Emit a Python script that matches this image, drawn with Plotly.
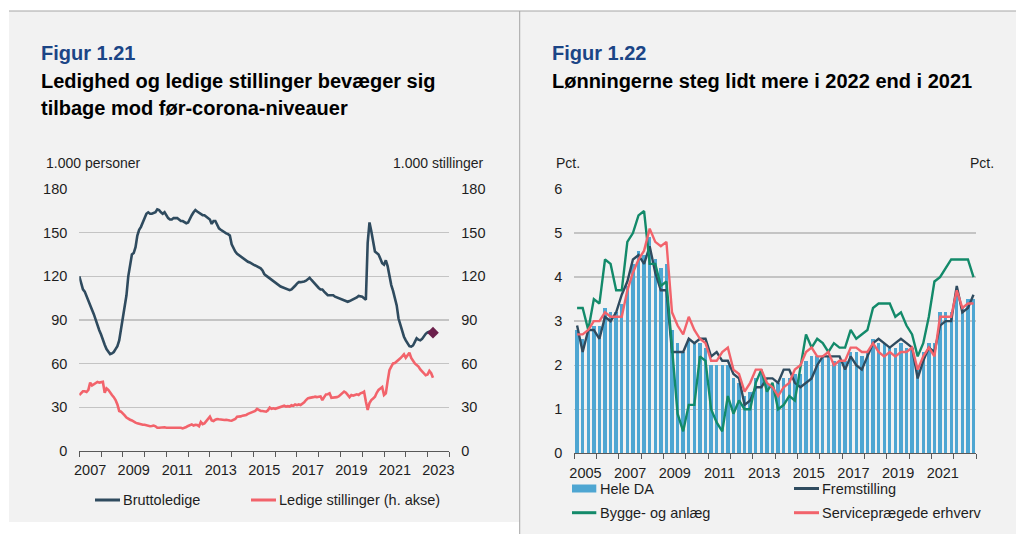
import plotly.graph_objects as go

W, H = 1016, 534
FONT = "Liberation Sans, Arial, Helvetica, sans-serif"

# ---------------- Data: Figur 1.21 (monthly, Jan 2007 - Apr 2023) ----------------
start_year_left = 2007
bruttoledige = [
    120, 115, 111, 109.5, 106, 103, 100, 97, 94, 90, 87, 83,            # 2007
    80, 76, 73, 70, 68, 66.5, 67, 68, 70, 72, 76, 84,                   # 2008
    91, 99, 107, 120, 128, 135, 136, 140, 148, 152, 154, 157,           # 2009
    161, 163, 164, 163, 163, 163.5, 164, 166, 165.5, 164, 163, 164,     # 2010
    162, 160, 159, 159, 160, 160, 160, 159, 158, 158, 157, 156.5,       # 2011
    157, 160, 162, 164, 165.5, 164.5, 163.5, 163, 162, 162, 161, 160,   # 2012
    159, 156, 158, 158, 155, 153, 152, 151, 150.5, 149.5, 149, 148,     # 2013
    142, 139, 137, 135.5, 134.5, 134, 133, 132, 131, 130, 129.5, 128.5, # 2014
    128, 127.5, 127, 126.5, 125.5, 124, 121.5, 120.5, 119.5, 118.5, 117.5, 116.5,  # 2015
    115.5, 115, 114, 113, 112.5, 112, 111.5, 111, 110.5, 111, 112, 113.5,          # 2016
    115, 116, 116, 116, 116.5, 117, 118, 119, 117.5, 116, 114.5, 113,   # 2017
    112, 111, 111, 109.5, 108, 107, 107, 107, 107, 106, 105.5, 105,     # 2018
    104.5, 103.5, 103, 102.5, 102.5, 103, 103.5, 104, 105, 105.5, 106.5, 106.5,    # 2019
    106, 105, 104, 143, 157, 151, 144, 137, 136, 135, 132, 129,         # 2020
    128, 131, 127, 120, 114, 110, 105, 100, 91, 87, 82, 78.5,           # 2021
    76, 74, 72, 71.7, 72.5, 75, 77.5, 76.5, 76, 77, 79, 80.5,           # 2022
    81.5, 82, 81.5, 81.3,                                               # 2023
]
ledige_stillinger = [
    38.5, 40, 41, 41, 40.5, 42, 47, 45, 46, 47, 47.5, 47,               # 2007
    47.5, 47.5, 40, 43, 42, 40, 38.5, 37, 35, 32, 27.5, 27,             # 2008
    26, 24.5, 23, 22, 21.5, 21, 20, 19.5, 19, 18.5, 18, 18,             # 2009
    18, 17.5, 17.5, 17, 17.2, 17.5, 17, 16, 16, 16.2, 16, 16.3,         # 2010
    16, 16, 16, 16.3, 16, 15.8, 16.3, 16, 16, 15.5, 15.8, 16.5,         # 2011
    17.2, 17.5, 18.3, 17.5, 18, 17.9, 17, 20, 18.5, 19, 20.5, 22,       # 2012
    23.6, 21, 20.6, 21.5, 22, 21.8, 21.5, 21.5, 21.3, 21.5, 21, 21,     # 2013
    20.8, 21.2, 22, 23.6, 23.5, 23.8, 24.3, 24.3, 24.8, 25.5, 26, 26,   # 2014
    26.5, 27.5, 28.9, 28, 27.5, 27.5, 27, 27, 28, 29.8, 29, 29.3,       # 2015
    29, 29.5, 29.8, 30, 30.5, 31.1, 30.5, 30.8, 30.5, 31.5, 31, 32,     # 2016
    31.5, 32, 31.6, 32.5, 33.4, 35, 36.2, 36.5, 36.5, 37, 37.3, 37,     # 2017
    37.3, 37.5, 35, 37.5, 38.9, 39, 39.6, 36.6, 36.6, 36.6, 37, 37.5,   # 2018
    38.5, 39.5, 40.8, 40, 38.5, 37, 38.5, 38, 38.5, 38.9, 38.5, 39.6,   # 2019
    40, 40.8, 34, 28.2, 33, 35, 36, 37.3, 40, 42, 43, 44,               # 2020
    38.5, 39.6, 48, 55.6, 58, 60.2, 60.5, 61.4, 62.5, 63.7, 65, 66.4,   # 2021
    64, 66, 67.5, 64, 62, 60.2, 59, 58, 56, 54.5, 53, 52,               # 2022
    52.5, 55, 53.4, 50.4,                                               # 2023
]
left_tick_years = [2007, 2009, 2011, 2013, 2015, 2017, 2019, 2021, 2023]
left_yticks = [0, 30, 60, 90, 120, 150, 180]

# ---------------- Data: Figur 1.22 (quarterly, 2005K1 - 2022K4) ----------------
start_year_right = 2005
quarters = [f"{y}K{q}" for y in range(2005, 2023) for q in range(1, 5)]
hele_da = [2.8, 2.6, 2.8, 2.9, 2.9, 3.3, 3.2, 3.2, 3.4, 3.8, 4.3, 4.6,
           4.5, 4.9, 4.4, 4.2, 4.3, 2.8, 2.5, 2.3, 2.6, 2.5, 2.5, 2.4,
           2.0, 2.0, 2.0, 2.0, 1.7, 1.6, 1.3, 1.4, 1.7, 1.8, 1.6, 1.5,
           1.6, 1.7, 1.7, 1.8, 1.8, 2.1, 2.2, 2.2, 2.2, 2.2, 2.1, 2.1,
           2.1, 2.3, 2.3, 2.2, 2.3, 2.6, 2.5, 2.5, 2.4, 2.4, 2.5, 2.4,
           2.4, 1.9, 2.3, 2.5, 2.5, 3.2, 3.2, 3.2, 3.7, 3.3, 3.5, 3.5]
fremstilling = [2.9, 2.3, 2.8, 2.8, 2.6, 3.1, 3.0, 3.2, 3.6, 3.9, 4.4, 4.5,
                4.3, 4.7, 4.1, 3.7, 3.7, 2.3, 2.3, 2.3, 2.6, 2.5, 2.6, 2.6,
                2.2, 2.3, 2.1, 2.1, 1.8, 1.7, 1.1, 1.2, 1.5, 1.5, 1.7, 1.7,
                1.6, 1.9, 1.9, 1.6, 1.5, 1.6, 1.7, 2.0, 2.2, 2.2, 2.2, 2.2,
                1.9, 2.2, 2.0, 1.9, 2.2, 2.5, 2.6, 2.5, 2.4, 2.5, 2.6, 2.5,
                2.4, 1.7, 2.1, 2.4, 2.3, 2.9, 3.0, 3.0, 3.8, 3.2, 3.3, 3.6]
bygge = [3.3, 3.3, 2.8, 3.5, 3.4, 4.4, 4.3, 3.7, 3.7, 4.8, 5.0, 5.4,
         5.5, 4.3, 4.3, 3.8, 3.9, 2.3, 0.9, 0.5, 1.1, 1.1, 2.2, 2.1,
         1.0, 0.7, 0.5, 1.3, 0.9, 1.2, 1.0, 1.0, 1.6, 1.9, 1.4, 1.6,
         1.0, 1.1, 1.3, 1.2, 2.0, 2.7, 2.4, 2.6, 2.5, 2.3, 2.5, 2.4,
         2.4, 2.8, 2.6, 2.7, 2.8, 3.3, 3.4, 3.4, 3.4, 3.1, 3.2, 2.9,
         2.7, 2.2, 2.5, 3.1, 3.9, 4.0, 4.2, 4.4, 4.4, 4.4, 4.4, 4.0]
service = [2.7, 2.7, 2.8, 3.0, 3.0, 3.2, 3.1, 3.1, 3.1, 3.7, 4.1, 4.4,
           4.6, 5.1, 4.8, 4.7, 4.8, 3.2, 2.9, 2.7, 3.1, 2.8, 2.6, 2.5,
           2.1, 2.1, 2.3, 2.4, 1.9, 1.8, 1.4, 1.6, 1.9, 1.9, 1.6, 1.5,
           1.3, 1.5, 1.6, 1.9, 2.0, 2.3, 2.4, 2.2, 2.2, 2.3, 2.0, 2.1,
           2.1, 2.4, 2.4, 2.3, 2.3, 2.5, 2.3, 2.2, 2.3, 2.2, 2.3, 2.3,
           2.4, 1.9, 2.2, 2.4, 2.2, 3.1, 3.1, 3.1, 3.7, 3.3, 3.4, 3.4]
right_tick_years = [2005, 2007, 2009, 2011, 2013, 2015, 2017, 2019, 2021]
right_yticks = [0, 1, 2, 3, 4, 5, 6]

# ---------------- Colours ----------------
C_NAVY = "#2F4B5F"
C_RED = "#F2636B"
C_GREEN = "#138A6A"
C_BAR = "#4EA6D2"
C_DIAMOND = "#6B1F4B"
C_TITLE = "#1B4586"
C_TEXT = "#1E1E1E"
C_GRID = "#C4C4C4"
C_AXIS = "#595959"
BG = "#F2F2F2"


def fx(px):
    return px / W


def fy(py):
    return 1 - py / H


# x positions from the time index
x_month = [start_year_left + m / 12 for m in range(len(bruttoledige))]
x_quarter = [start_year_right + (i + 0.5) / 4 for i in range(len(quarters))]

fig = go.Figure()

# Left chart
fig.add_trace(go.Scatter(x=x_month, y=bruttoledige, mode="lines", name="Bruttoledige",
                         line=dict(color=C_NAVY, width=2.6), xaxis="x", yaxis="y",
                         showlegend=False))
fig.add_trace(go.Scatter(x=x_month, y=ledige_stillinger, mode="lines",
                         name="Ledige stillinger (h. akse)",
                         line=dict(color=C_RED, width=2.6), xaxis="x", yaxis="y2",
                         showlegend=False))
fig.add_trace(go.Scatter(x=[x_month[-1]], y=[bruttoledige[-1]], mode="markers",
                         marker=dict(symbol="diamond", size=9, color=C_DIAMOND),
                         xaxis="x", yaxis="y", showlegend=False))

# Right chart
fig.add_trace(go.Bar(x=x_quarter, y=hele_da, name="Hele DA", marker_color=C_BAR,
                     marker_line_width=0, width=0.15, xaxis="x2", yaxis="y3",
                     showlegend=False))
fig.add_trace(go.Scatter(x=x_quarter, y=fremstilling, mode="lines", name="Fremstilling",
                         line=dict(color=C_NAVY, width=2.4), xaxis="x2", yaxis="y3",
                         showlegend=False))
fig.add_trace(go.Scatter(x=x_quarter, y=bygge, mode="lines", name="Bygge- og anlæg",
                         line=dict(color=C_GREEN, width=2.4), xaxis="x2", yaxis="y3",
                         showlegend=False))
fig.add_trace(go.Scatter(x=x_quarter, y=service, mode="lines", name="Serviceprægede erhverv",
                         line=dict(color=C_RED, width=2.4), xaxis="x2", yaxis="y3",
                         showlegend=False))

tickfont = dict(family=FONT, size=14.5, color=C_TEXT)

common_x = dict(showgrid=False, zeroline=False, showline=True, linecolor=C_AXIS,
                linewidth=1, ticks="", tickfont=tickfont, ticklabelstandoff=6,
                fixedrange=True, automargin=False)
common_y = dict(zeroline=False, showline=False, ticks="", tickfont=tickfont,
                ticklabelstandoff=11, fixedrange=True, automargin=False)

fig.update_layout(
    width=W, height=H,
    margin=dict(l=0, r=0, t=0, b=0, pad=0, autoexpand=False),
    paper_bgcolor="white",
    plot_bgcolor="rgba(0,0,0,0)",
    font=dict(family=FONT, color=C_TEXT),
    bargap=0,
    showlegend=False,
    hovermode=False,
    xaxis=dict(domain=[fx(79.3), fx(449.3)], range=[2007, 2024], anchor="y",
               tickvals=[y + 0.5 for y in left_tick_years],
               ticktext=[str(y) for y in left_tick_years],
               minor=dict(tickvals=list(range(2007, 2025)), ticks="outside", ticklen=5,
                          tickcolor=C_AXIS, tickwidth=1, showgrid=False),
               **common_x),
    yaxis=dict(domain=[fy(451), fy(189)], range=[0, 180], anchor="x",
               tickvals=left_yticks, showgrid=True, gridcolor=C_GRID, gridwidth=1.4,
               **common_y),
    yaxis2=dict(overlaying="y", side="right", anchor="x", range=[0, 180],
                tickvals=left_yticks, showgrid=False, **common_y),
    xaxis2=dict(domain=[fx(574.3), fx(976.3)], range=[2005, 2023], anchor="y3",
                tickvals=[y + 0.5 for y in right_tick_years],
                ticktext=[str(y) for y in right_tick_years],
                minor=dict(tickvals=list(range(2005, 2024)), ticks="outside", ticklen=5,
                           tickcolor=C_AXIS, tickwidth=1, showgrid=False),
                **common_x),
    yaxis3=dict(domain=[fy(453.3), fy(189)], range=[0, 6], anchor="x2",
                tickvals=right_yticks, showgrid=True, gridcolor=C_GRID, gridwidth=1.4,
                **common_y),
    yaxis4=dict(overlaying="y3", side="right", anchor="x2", range=[0, 6],
                tickvals=right_yticks, showgrid=False, **common_y),
)

shapes = []
# panel backgrounds
shapes.append(dict(type="rect", xref="paper", yref="paper", x0=fx(9), x1=fx(520),
                   y0=fy(522), y1=fy(11), fillcolor=BG, line=dict(width=0), layer="below"))
shapes.append(dict(type="rect", xref="paper", yref="paper", x0=fx(520), x1=1,
                   y0=0, y1=fy(11), fillcolor=BG, line=dict(width=0), layer="below"))
# top rule and divider
shapes.append(dict(type="line", xref="paper", yref="paper", x0=fx(9), x1=1,
                   y0=fy(11), y1=fy(11), line=dict(color="#A6A6A6", width=1)))
shapes.append(dict(type="line", xref="paper", yref="paper", x0=fx(519.7), x1=fx(519.7),
                   y0=0, y1=fy(11), line=dict(color="#A6A6A6", width=1)))

# manual legends
def leg_line(x0, x1, y, color):
    shapes.append(dict(type="line", xref="paper", yref="paper", x0=fx(x0), x1=fx(x1),
                       y0=fy(y), y1=fy(y), line=dict(color=color, width=3)))

leg_line(95, 120, 500, C_NAVY)
leg_line(251, 276, 500, C_RED)
shapes.append(dict(type="rect", xref="paper", yref="paper", x0=fx(572), x1=fx(596.3),
                   y0=fy(492.5), y1=fy(484.5), fillcolor=C_BAR, line=dict(width=0)))
leg_line(794, 819, 488.5, C_NAVY)
leg_line(572, 596.3, 512.7, C_GREEN)
leg_line(794, 819, 512.7, C_RED)

annotations = []

def text(x, y, s, size=14.5, color=C_TEXT, anchor="left"):
    annotations.append(dict(xref="paper", yref="paper", x=fx(x), y=fy(y), text=s,
                            showarrow=False, xanchor=anchor, yanchor="middle",
                            font=dict(family=FONT, size=size, color=color)))

# Titles
TS = 20
text(39, 53, "<b>Figur 1.21</b>", size=TS, color=C_TITLE)
text(39, 81, "<b>Ledighed og ledige stillinger bevæger sig</b>", size=TS, color="#000000")
text(39, 108, "<b>tilbage mod før-corona-niveauer</b>", size=TS, color="#000000")
text(550, 53, "<b>Figur 1.22</b>", size=TS, color=C_TITLE)
text(550, 81, "<b>Lønningerne steg lidt mere i 2022 end i 2021</b>", size=TS, color="#000000")

# Axis unit labels
text(44, 163, "1.000 personer", size=14)
text(486, 163, "1.000 stillinger", size=14, anchor="right")
text(554, 163, "Pct.", size=14)
text(996, 163, "Pct.", size=14, anchor="right")

# Legend labels
text(121, 500, "Bruttoledige")
text(277, 500, "Ledige stillinger (h. akse)")
text(598, 488.5, "Hele DA")
text(820, 488.5, "Fremstilling")
text(598, 512.7, "Bygge- og anlæg")
text(820, 512.7, "Serviceprægede erhverv")

fig.update_layout(shapes=shapes, annotations=annotations)

fig.write_html(
    "out.html",
    config={"displayModeBar": False, "staticPlot": True},
    post_script="document.body.style.margin='0px';document.body.style.overflow='hidden';",
)
